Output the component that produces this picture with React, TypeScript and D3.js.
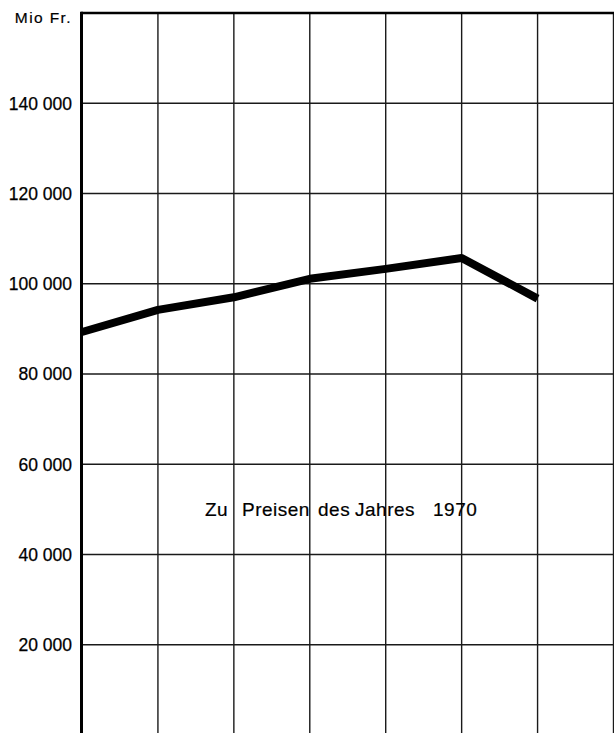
import React from "react";
import * as d3 from "d3";

const years = [1969, 1970, 1971, 1972, 1973, 1974, 1975, 1976];
const dataYears = [1969, 1970, 1971, 1972, 1973, 1974, 1975];
const values = [89300, 94200, 97000, 101100, 103300, 105700, 96700];
const yTicks = [20000, 40000, 60000, 80000, 100000, 120000, 140000];
const yTickLabels = ["20 000", "40 000", "60 000", "80 000", "100 000", "120 000", "140 000"];
const unitLabel = "Mio Fr.";
const noteWords = ["Zu", "Preisen", "des", "Jahres", "1970"];

const W = 614;
const H = 733;

export default function App() {
  const x = d3.scaleLinear().domain([years[0], years[years.length - 1]]).range([82, 613.5]);
  const y = d3.scaleLinear().domain([0, 160000]).range([735, 13]);
  const line = d3
    .line<number>()
    .x((_, i) => x(dataYears[i]))
    .y((d) => y(d));
  const font = "'Liberation Sans', Arial, Helvetica, sans-serif";
  const noteX = [205, 242, 318, 355, 433];
  return (
    <svg
      width={W}
      height={H}
      style={{ position: "absolute", left: 0, top: 0, background: "#fff" }}
      fontFamily={font}
    >
      <rect x={0} y={0} width={W} height={H} fill="#fff" />
      {yTicks.map((t, i) => (
        <g key={t}>
          <line x1={x(years[0])} x2={W} y1={y(t)} y2={y(t)} stroke="#1a1a1a" strokeWidth={1.3} />
          <text
            x={72}
            y={y(t)}
            dy="0.36em"
            textAnchor="end"
            fontSize={17.5}
            fill="#000"
            stroke="#000"
            strokeWidth={0.25}
          >
            {yTickLabels[i]}
          </text>
        </g>
      ))}
      {years.slice(1).map((yr) => (
        <line key={yr} x1={x(yr)} x2={x(yr)} y1={y(160000)} y2={H} stroke="#1a1a1a" strokeWidth={1.4} />
      ))}
      <line x1={x(years[0]) - 1} x2={W} y1={y(160000)} y2={y(160000)} stroke="#000" strokeWidth={2.6} />
      <line x1={x(years[0]) - 0.5} x2={x(years[0]) - 0.5} y1={y(160000) - 1.3} y2={H} stroke="#000" strokeWidth={3} />
      <text x={72} y={23} textAnchor="end" fontSize={15.5} letterSpacing={1.4} fill="#000" stroke="#000" strokeWidth={0.2}>
        {unitLabel}
      </text>
      <path
        d={line(values) || ""}
        fill="none"
        stroke="#000"
        strokeWidth={8}
        strokeLinejoin="round"
        strokeLinecap="butt"
      />
      <text y={516} fontSize={19} fill="#000" letterSpacing={0.5} stroke="#000" strokeWidth={0.2}>
        {noteWords.map((w, i) => (
          <tspan key={i} x={noteX[i]}>
            {w}
          </tspan>
        ))}
      </text>
    </svg>
  );
}
